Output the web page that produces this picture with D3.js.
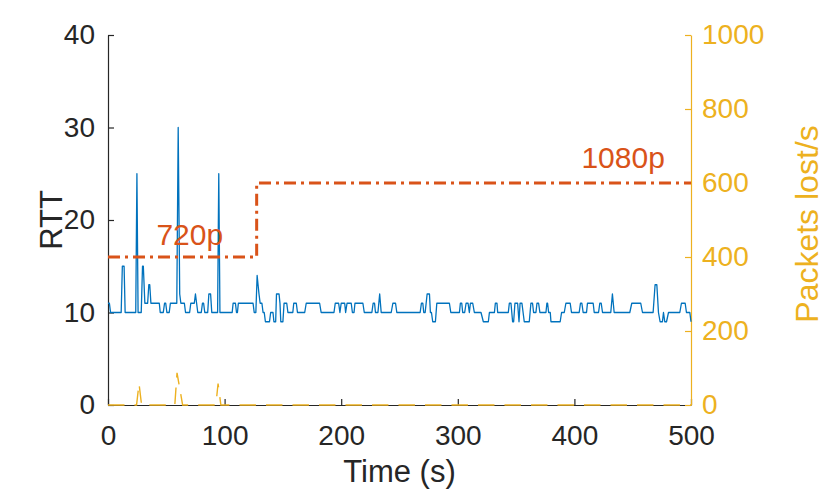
<!DOCTYPE html>
<html>
<head>
<meta charset="utf-8">
<script src="https://cdn.jsdelivr.net/npm/d3@7"></script>
<style>
  body { margin: 0; background: #fff; }
  text { font-family: "Liberation Sans", Arial, Helvetica, sans-serif; }
</style>
</head>
<body>
<div id="chart"></div>
<script>
var rttTime = [0,1.2,2.2,11.3,12.3,13.8,14.7,23.8,24.8,25.8,28.5,29.6,30.3,31.6,34,35,35.8,36.8,
  44,44.8,47.4,48.5,49.5,50.5,52.5,53.5,59,60.2,61.5,62.5,65.5,66.5,70,71,74,75,76,77,80,81,82,83,85.5,86.5,88,89,94,95,96,
  106.5,107.3,109.3,110.2,111,111.8,124.4,125.4,126.8,127.9,129.5,130.5,132,133,134,135,138.5,139.5,141.5,142.3,143.8,
  144.5,146.7,147.5,148.2,150,151,153.3,154.3,158.5,159.3,161.5,162.5,168.7,170,181.5,182.8,193.8,194.9,197.8,198.9,
  200,203,203.8,205,208.6,209.6,211,211.8,218.6,219.8,226.3,227.4,228.6,229.4,231.5,233,234.3,
  242.9,244.3,246.6,247.7,267.7,268.8,270,270.8,272,273.7,275.7,276.5,277.4,278.5,280.8,282,292.8,294,301.4,302.2,
  303.4,304.2,305.9,307.1,308.8,309.9,310.8,312.8,314.2,319.9,321.9,326.2,327.1,331.4,332.2,333.6,334.2,343.3,344.2,
  345.6,347,347.9,349,351.3,352.5,353.4,355,357,361.3,362.7,364.1,365,367,367.9,369.3,370.4,375.6,376.4,377,377.9,
  379.3,379.9,387.8,389,391.3,392.7,396.4,397.5,404.1,405.2,406.4,407.5,410.4,411.2,416.1,417,420.7,421.8,423,424.1,
  431.2,432.6,434.1,447.5,449.2,456.9,458.4,467.5,469.2,470.7,472.1,473.5,475.5,476.4,477.5,479,480.7,490.4,491.8,
  495,496.1,499,500];
var rttValue = [11,11,10,10,15,15,10,10,25,10,10,15,15,11,11,13,13,11,
  11,10,10,11,11,10,10,11,11,30,12,11,11,10,10,11,11,12,11,10,10,11,11,10,10,12,12,10,10,25,10,
  10,11,11,10,10,11,11,10,10,14,12,11,11,10,10,9,9,10,10,9,9,
  12,12,11,9,9,11,11,10,10,11,11,10,10,11,11,10,10,11,11,10,
  11,11,10,11,11,10,10,11,11,10,10,11,11,10,10,12,10,
  10,11,11,10,10,11,11,10,10,12,12,10,10,9,9,11,11,10,10,11,
  11,10,10,11,11,10,11,11,10,10,9,9,10,10,11,11,10,10,11,
  11,9,9,11,11,9,11,11,9,9,11,11,10,10,11,11,10,10,11,11,10,
  10,9,9,10,10,11,11,10,10,11,11,10,10,11,11,10,10,11,11,10,
  10,12,10,10,11,11,10,10,13,13,10,9,9,10,9,9,10,10,11,
  11,10,10,9];

// packets lost per second
var lossTime = [0,24.5,26.6,28.8,57.3,59.2,64,92.5,94.4,96.8,500];
var lossValue = [0,0,58,0,0,87,0,0,58,0,0];

// video resolution step (drawn on the RTT scale)
var resTime = [0,127.5,127.5,500];
var resValue = [16,16,24,24];
var resLabels = ["720p", "1080p"];

var xTicks = [0,100,200,300,400,500];
var yTicks = [0,10,20,30,40];
var y2Ticks = [0,200,400,600,800,1000];

var W = 830, H = 498;
var margin = {top: 35, right: 139, bottom: 93, left: 108};
var width = W - margin.left - margin.right,
    height = H - margin.top - margin.bottom;

var ink = "#262626", blue = "#0072BD", orange = "#D95319", yellow = "#EDB120";

var x = d3.scaleLinear().domain([0, 500]).range([0, width]);
var y = d3.scaleLinear().domain([0, 40]).range([height, 0]);
var y2 = d3.scaleLinear().domain([0, 1000]).range([height, 0]);

var svg = d3.select("#chart").append("svg")
    .attr("width", W)
    .attr("height", H);

var g = svg.append("g")
    .attr("transform", "translate(" + margin.left + "," + margin.top + ")");

// axes, ticks pointing inward
var gx = g.append("g")
    .attr("transform", "translate(0," + height + ")")
    .call(d3.axisBottom(x).tickValues(xTicks).tickSize(-6).tickSizeOuter(0).tickPadding(20));
var gy = g.append("g")
    .call(d3.axisLeft(y).tickValues(yTicks).tickSize(-6).tickSizeOuter(0).tickPadding(13));
var gy2 = g.append("g")
    .attr("transform", "translate(" + width + ",0)")
    .call(d3.axisRight(y2).tickValues(y2Ticks).tickFormat(d3.format("d"))
        .tickSize(-6).tickSizeOuter(0).tickPadding(11));

[gx, gy].forEach(function (a) {
    a.selectAll("path, line").attr("stroke", ink).attr("stroke-width", 1.2);
    a.selectAll("text").attr("fill", ink).style("font-size", "28px");
});
gy2.selectAll("path, line").attr("stroke", yellow).attr("stroke-width", 1.2);
gy2.selectAll("text").attr("fill", yellow).style("font-size", "28px");

var lineRtt = d3.line()
    .x(function (d, i) { return x(rttTime[i]); })
    .y(function (d) { return y(d); });

var lineLoss = d3.line()
    .x(function (d, i) { return x(lossTime[i]); })
    .y(function (d) { return y2(d); });

var lineRes = d3.line()
    .x(function (d, i) { return x(resTime[i]); })
    .y(function (d) { return y(d); });

g.append("path")
    .attr("d", lineLoss(lossValue))
    .attr("fill", "none")
    .attr("stroke", yellow)
    .attr("stroke-width", 1.4)
    .attr("stroke-dasharray", "16.5,10");

g.append("path")
    .attr("d", lineRtt(rttValue))
    .attr("fill", "none")
    .attr("stroke", blue)
    .attr("stroke-width", 1.3)
    .attr("stroke-linejoin", "round");

g.append("path")
    .attr("d", lineRes(resValue))
    .attr("fill", "none")
    .attr("stroke", orange)
    .attr("stroke-width", 3)
    .attr("stroke-dasharray", "12,5,3,5");

// resolution labels sit just above each level
g.append("text")
    .attr("x", x(41.5))
    .attr("y", y(resValue[0]) - 12)
    .attr("fill", orange)
    .style("font-size", "30px")
    .text(resLabels[0]);
g.append("text")
    .attr("x", x(406))
    .attr("y", y(resValue[3]) - 15)
    .attr("fill", orange)
    .style("font-size", "30px")
    .text(resLabels[1]);

// axis titles
svg.append("text")
    .attr("x", margin.left + width / 2)
    .attr("y", 482)
    .attr("text-anchor", "middle")
    .attr("fill", ink)
    .style("font-size", "31px")
    .text("Time (s)");

svg.append("text")
    .attr("transform", "translate(62," + (margin.top + height / 2) + ") rotate(-90)")
    .attr("text-anchor", "middle")
    .attr("fill", ink)
    .style("font-size", "31px")
    .text("RTT");

svg.append("text")
    .attr("transform", "translate(818," + (margin.top + height / 2 + 4) + ") rotate(-90)")
    .attr("text-anchor", "middle")
    .attr("fill", yellow)
    .style("font-size", "32px")
    .text("Packets lost/s");
</script>
</body>
</html>
